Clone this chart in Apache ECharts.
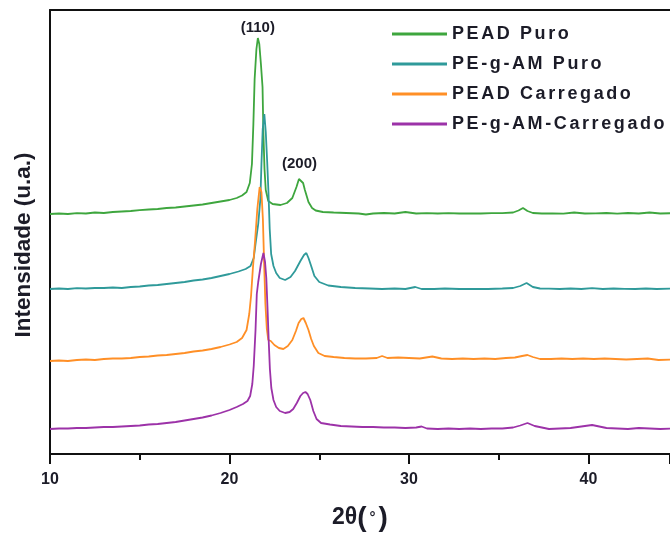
<!DOCTYPE html>
<html>
<head>
<meta charset="utf-8">
<script src="https://cdn.jsdelivr.net/npm/echarts@6/dist/echarts.min.js"></script>
<style>
  html, body { margin: 0; padding: 0; background: #fff; }
  #chart { width: 670px; height: 533px; }
</style>
</head>
<body>
<div id="chart"></div>
<script>
// XRD patterns, offset vertically (arbitrary units); pairs are [2θ (°), intensity]
const seriesNames = ['PEAD Puro', 'PE-g-AM Puro', 'PEAD Carregado', 'PE-g-AM-Carregado'];
const seriesColors = ['#3ea63e', '#2f9a9a', '#ff8f26', '#9c32a8'];
const xTicks = [10, 20, 30, 40];
const peakLabels = ['(110)', '(200)'];

const peadPuro = [
  [10.0,240],[10.5,240.5],[11.0,240],[11.5,240.8],[12.0,240.5],[12.5,241.5],[13.0,241],[13.5,242],
  [14.0,242.5],[14.5,243],[15.0,243.8],[15.5,244.5],[16.0,245],[16.5,246],[17.0,246.5],[17.5,247.5],
  [18.0,248.5],[18.5,249.5],[19.0,251],[19.5,252.5],[20.0,254],[20.4,256],[20.7,258.5],[20.95,262],
  [21.13,271],[21.25,290],[21.33,330],[21.4,375],[21.5,405],[21.58,416],[21.66,410],[21.75,390],
  [21.84,367],[21.89,320],[21.95,285],[22.02,264],[22.16,253],[22.4,250],[22.84,249],[23.2,251],
  [23.5,256],[23.73,267],[23.87,275],[23.97,277],[24.1,271],[24.2,264],[24.4,252],[24.6,246],
  [24.8,243.5],[25.2,242],[25.8,241.5],[26.5,241],[27.2,240.5],[27.6,239.5],[28.0,240.5],[28.6,241],
  [29.2,240.5],[29.8,242],[30.4,240.5],[31.0,240.8],[31.6,240.5],[32.2,240.8],[32.8,240.5],[33.4,240.6],
  [34.0,240.5],[34.6,240.8],[35.2,240.8],[35.8,241.5],[36.1,243.5],[36.35,246],[36.6,243],[36.9,241],
  [37.4,240.5],[38.0,240.6],[38.6,240.4],[39.2,241.5],[39.8,240.5],[40.4,240.6],[41.0,241],[41.6,240.4],
  [42.2,241],[42.8,240.5],[43.4,241.5],[44.0,240.5],[44.6,240.8]
];

const pegamPuro = [
  [10.0,165],[10.5,165.5],[11.0,165],[11.5,165.8],[12.0,165.5],[12.5,166],[13.0,166],[13.5,166.5],
  [14.0,166],[14.5,167],[15.0,167.5],[15.5,168.5],[16.0,169],[16.5,170],[17.0,171],[17.5,172],
  [18.0,173.5],[18.5,174.5],[19.0,176],[19.5,178],[20.0,180],[20.5,182.5],[20.9,185],[21.17,188],
  [21.35,196],[21.45,210],[21.6,230],[21.72,255],[21.78,290],[21.85,325],[21.94,340],[22.02,322],
  [22.1,292],[22.17,262],[22.24,225],[22.32,200],[22.45,188],[22.6,181],[22.8,176],[23.1,174],
  [23.4,177],[23.65,183],[23.95,193],[24.15,199],[24.28,201],[24.4,196],[24.55,188],[24.73,178],
  [25.0,172],[25.5,168.5],[26.2,167],[27.0,166],[27.8,165.5],[28.5,165],[29.2,165.5],[29.8,165],
  [30.35,167],[30.7,165],[31.4,165],[32.0,165.5],[32.8,165],[33.6,165],[34.4,165],[35.2,165.5],
  [35.8,166],[36.2,168],[36.55,171],[36.9,167],[37.3,165.5],[37.8,165.3],[38.4,165],[39.0,165.5],
  [39.6,165],[40.2,165.8],[40.8,165],[41.4,165.5],[42.0,165.2],[42.6,165],[43.2,165.5],[43.8,165],
  [44.6,165.3]
];

const peadCarregado = [
  [10.0,93],[10.5,93.5],[11.0,93],[11.5,94],[12.0,94.5],[12.5,94],[13.0,95],[13.5,95.5],
  [14.0,95.5],[14.5,96],[15.0,97],[15.5,97.5],[16.0,98.5],[16.5,99],[17.0,100],[17.5,101],
  [18.0,102.5],[18.5,103.5],[19.0,105],[19.5,107],[20.0,109.5],[20.4,112],[20.7,116],[20.95,124],
  [21.1,140],[21.2,158],[21.3,185],[21.42,212],[21.55,245],[21.68,267],[21.78,262],[21.86,235],
  [21.93,190],[22.0,150],[22.08,125],[22.16,114],[22.3,113],[22.5,109],[22.75,106],[23.0,105],
  [23.25,108],[23.5,114],[23.7,123],[23.85,131],[24.0,135],[24.12,136],[24.25,131],[24.4,124],
  [24.55,115],[24.7,108],[24.95,101],[25.3,98],[25.8,97],[26.4,96],[27.0,95.5],[27.6,95.5],
  [28.2,96],[28.5,98],[28.8,96],[29.4,96.5],[30.0,96],[30.6,95.5],[31.3,97.5],[31.8,95.5],
  [32.4,95],[33.0,95.5],[33.6,95],[34.2,95.5],[34.8,95],[35.4,96],[35.9,96.5],[36.3,98],
  [36.6,99],[36.9,97],[37.3,95],[37.9,95],[38.5,95.5],[39.1,95],[39.7,95.5],[40.3,95],
  [40.9,95.5],[41.5,95],[42.1,94.5],[42.7,95],[43.3,95.5],[43.9,94],[44.6,94.5]
];

const pegamCarregado = [
  [10.0,25],[10.5,25.5],[11.0,25.5],[11.5,26],[12.0,26],[12.5,26.5],[13.0,27],[13.5,27],
  [14.0,27.5],[14.5,28],[15.0,28.5],[15.5,29.5],[16.0,30],[16.5,31],[17.0,32],[17.5,33.5],
  [18.0,35],[18.5,36.5],[19.0,38.5],[19.5,41],[20.0,44],[20.4,47],[20.75,50],[21.0,53],
  [21.15,58],[21.27,70],[21.35,88],[21.45,124],[21.52,160],[21.6,172],[21.75,190],[21.89,201],
  [21.98,192],[22.05,176],[22.12,145],[22.18,115],[22.25,85],[22.33,66],[22.45,54],[22.6,47],
  [22.8,43],[23.1,41],[23.35,42],[23.55,45],[23.75,51],[23.95,58],[24.1,61],[24.23,62],
  [24.35,60],[24.5,54],[24.67,43],[24.85,35],[25.1,31],[25.6,29.5],[26.2,28],[26.8,27.5],
  [27.4,27],[28.0,27],[28.6,26.5],[29.2,26.5],[29.8,26],[30.4,26.5],[30.7,27.5],[31.0,25.5],
  [31.6,25],[32.2,25.5],[32.8,25],[33.4,25.5],[34.0,25],[34.6,25.5],[35.2,25.5],[35.8,26.5],
  [36.2,28.5],[36.6,31],[37.0,28],[37.4,26.5],[37.8,25],[38.4,25.5],[39.0,26],[39.6,27.5],
  [40.2,29],[40.6,27.5],[41.0,26],[41.6,25.5],[42.2,25],[42.8,26],[43.4,25.5],[44.0,25],
  [44.6,25.5]
];

// Reflection positions marked on the top pattern: [2θ, intensity]
const peak110 = [21.58, 416];
const peak200 = [23.9, 277];

const textColor = '#1c1c28';
const fontFamily = '"Liberation Sans", Arial, sans-serif';

// Legend entries are set with wider tracking; the context state is restored afterwards
(function () {
  const proto = CanvasRenderingContext2D.prototype;
  const baseFillText = proto.fillText;
  proto.fillText = function (text) {
    if (seriesNames.indexOf(text) >= 0 && 'letterSpacing' in this) {
      this.save();
      this.letterSpacing = '2.6px';
      const r = baseFillText.apply(this, arguments);
      this.restore();
      return r;
    }
    return baseFillText.apply(this, arguments);
  };
})();

const chart = echarts.init(document.getElementById('chart'), null, { renderer: 'canvas' });

const dataSets = [peadPuro, pegamPuro, peadCarregado, pegamCarregado];

const series = dataSets.map((d, i) => ({
  name: seriesNames[i],
  type: 'line',
  data: d,
  showSymbol: false,
  symbol: 'none',
  smooth: false,
  lineStyle: { width: 1.8, color: seriesColors[i] },
  itemStyle: { color: seriesColors[i] },
  z: 2 + i
}));

series[0].markPoint = {
  symbol: 'circle',
  symbolSize: 0,
  animation: false,
  label: {
    show: true,
    position: 'top',
    fontFamily: fontFamily,
    fontWeight: 'bold',
    fontSize: 15,
    color: textColor,
    formatter: p => p.name
  },
  data: [
    { name: peakLabels[0], coord: peak110, label: { distance: 3 } },
    { name: peakLabels[1], coord: peak200, label: { distance: 6 } }
  ]
};

chart.setOption({
  animation: false,
  backgroundColor: '#ffffff',
  grid: { left: 50, right: 0, top: 10, bottom: 79, containLabel: false, outerBoundsMode: 'none' },
  legend: {
    orient: 'vertical',
    left: 392,
    top: 24,
    padding: 0,
    icon: 'rect',
    itemWidth: 55,
    itemHeight: 3,
    itemGap: 10,
    data: seriesNames,
    textStyle: {
      fontFamily: fontFamily,
      fontWeight: 'bold',
      fontSize: 18,
      lineHeight: 20,
      color: textColor
    }
  },
  graphic: [{
    type: 'text',
    x: 24,
    y: 245,
    rotation: Math.PI / 2,
    style: {
      text: 'Intensidade (u.a.)',
      fontFamily: fontFamily,
      fontWeight: 'bold',
      fontSize: 22.5,
      fill: textColor,
      align: 'center',
      verticalAlign: 'middle'
    }
  }],
  xAxis: [{
    type: 'value',
    min: 10,
    max: 44.54,
    interval: 10,
    position: 'bottom',
    name: '{a|2θ}{b|(}{c|°}{b|)}',
    nameLocation: 'middle',
    nameGap: 50,
    nameTextStyle: {
      color: textColor,
      rich: {
        a: { fontFamily: fontFamily, fontWeight: 'bold', fontSize: 23, color: textColor, verticalAlign: 'middle' },
        b: { fontFamily: fontFamily, fontWeight: 'bold', fontSize: 28, color: textColor, verticalAlign: 'middle' },
        c: { fontFamily: fontFamily, fontWeight: 'bold', fontSize: 15, color: textColor, padding: [0, 3], verticalAlign: 'middle' }
      }
    },
    axisLine: { show: true, lineStyle: { color: '#111', width: 2 } },
    axisTick: { show: true, length: 10, lineStyle: { color: '#111', width: 2 } },
    minorTick: { show: true, splitNumber: 2, length: 6, lineStyle: { color: '#111', width: 2 } },
    splitLine: { show: false },
    axisLabel: {
      margin: 18,
      fontFamily: fontFamily,
      fontWeight: 'bold',
      fontSize: 16,
      color: textColor,
      showMaxLabel: false,
      formatter: v => (xTicks.indexOf(v) >= 0 ? String(v) : '')
    }
  }, {
    type: 'value',
    min: 10,
    max: 44.54,
    position: 'top',
    axisLine: { show: true, lineStyle: { color: '#111', width: 2 } },
    axisTick: { show: false },
    axisLabel: { show: false },
    splitLine: { show: false }
  }],
  yAxis: {
    type: 'value',
    min: 0,
    max: 444,
    axisLine: { show: true, lineStyle: { color: '#111', width: 2 } },
    axisTick: { show: false },
    axisLabel: { show: false },
    splitLine: { show: false }
  },
  series: series
});
</script>
</body>
</html>
